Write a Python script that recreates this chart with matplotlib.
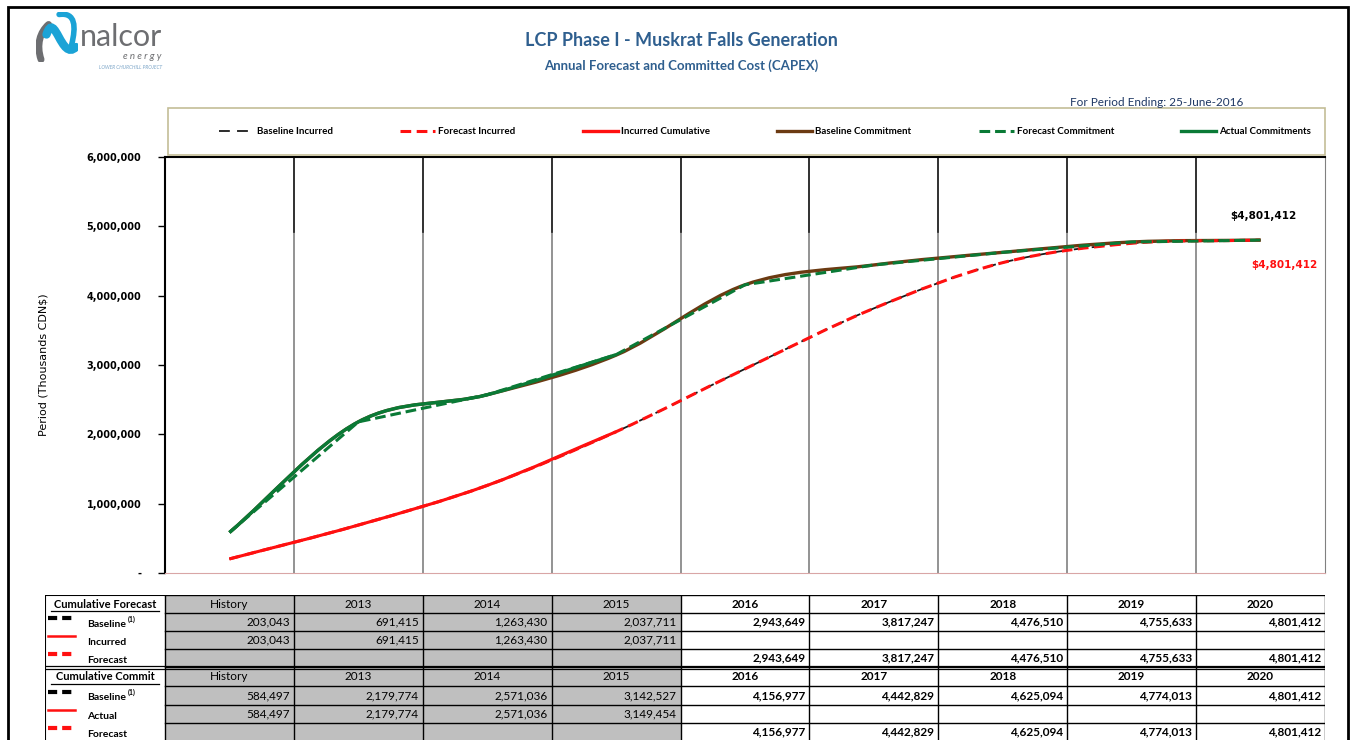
import numpy as np
import matplotlib
matplotlib.use('Agg')
import matplotlib.pyplot as plt
from matplotlib.path import Path
from matplotlib.patches import PathPatch, Rectangle
from matplotlib.lines import Line2D
from matplotlib.ticker import FuncFormatter

periods = ['History', '2013', '2014', '2015', '2016', '2017', '2018', '2019', '2020']
baseline_incurred = [203043, 691415, 1263430, 2037711, 2943649, 3817247, 4476510, 4755633, 4801412]
incurred = [203043, 691415, 1263430, 2037711]
forecast_incurred = [2943649, 3817247, 4476510, 4755633, 4801412]
baseline_commit = [584497, 2179774, 2571036, 3142527, 4156977, 4442829, 4625094, 4774013, 4801412]
actual_commit = [584497, 2179774, 2571036, 3149454]
forecast_commit = [4156977, 4442829, 4625094, 4774013, 4801412]
final_total = 4801412

W, H = 1356, 740
GREEN = '#0A7A36'
BROWN = '#6B3A12'
RED = '#FF1010'
BLUE = '#2F5F8F'
plt.rcParams['font.family'] = ['Lato', 'DejaVu Sans']


def smooth_path(xs, ys):
    # excel style smoothed line (catmull-rom bezier)
    pts = np.column_stack([xs, ys]).astype(float)
    ext = np.vstack([2 * pts[0] - pts[1], pts, 2 * pts[-1] - pts[-2]])
    verts = [pts[0]]
    codes = [Path.MOVETO]
    for i in range(1, len(ext) - 2):
        c1 = ext[i] + (ext[i + 1] - ext[i - 1]) / 6
        c2 = ext[i + 1] - (ext[i + 2] - ext[i]) / 6
        verts += [c1, c2, ext[i + 1]]
        codes += [Path.CURVE4] * 3
    return Path(verts, codes)


def fx(px):
    return px / W


def fy(py):
    return 1 - py / H


fig = plt.figure(figsize=(W / 100, H / 100), dpi=100)
fig.patch.set_facecolor('white')

# ---- main chart
ax = fig.add_axes([fx(165), fy(573), 1160 / W, 416 / H])
x = np.arange(len(periods)) + 0.5
n_act = len(incurred)

ax.add_patch(PathPatch(smooth_path(x, baseline_incurred), fill=False, ec='#1A1A1A', lw=1.3,
                       ls=(0, (6, 4)), zorder=2))
ax.add_patch(PathPatch(smooth_path(x[:n_act], incurred), fill=False, ec=RED, lw=2.2, zorder=3))
ax.add_patch(PathPatch(smooth_path(x, incurred + forecast_incurred), fill=False, ec=RED, lw=2.2,
                       ls=(0, (3.5, 1.8)), zorder=4))

ax.add_patch(PathPatch(smooth_path(x, baseline_commit), fill=False, ec=BROWN, lw=2.4, zorder=2))
ax.add_patch(PathPatch(smooth_path(x[:n_act], actual_commit), fill=False, ec=GREEN, lw=2.4, zorder=3))
ax.plot(x, actual_commit + forecast_commit, color=GREEN, lw=2.2, ls=(0, (3.5, 1.6)), zorder=4)

ax.annotate('$' + format(final_total, ','), (x[-1], baseline_commit[-1]), xytext=(2, 15),
            textcoords='offset points', ha='center', fontsize=7.5, fontweight='bold',
            color='black', family=['DejaVu Sans'])
ax.annotate('$' + format(final_total, ','), (x[-1], forecast_incurred[-1]), xytext=(17, -20),
            textcoords='offset points', ha='center', fontsize=7.5, fontweight='bold',
            color=RED, family=['DejaVu Sans'])

for k in range(1, len(periods)):
    ax.axvline(k, color='#808080', lw=1.2, zorder=1)
    ax.axvline(k, ymin=0.82, ymax=1, color='#222222', lw=1.2, zorder=1)

ax.set_xlim(0, len(periods))
ax.set_ylim(0, 6000000)
ax.set_xticks([])
ax.set_yticks(np.arange(0, 6000001, 1000000))
ax.yaxis.set_major_formatter(FuncFormatter(lambda v, p: '-' if v == 0 else format(int(v), ',')))
ax.tick_params(axis='y', direction='out', length=5, width=1, pad=12)
for lab in ax.get_yticklabels():
    lab.set_fontweight('bold')
    lab.set_fontsize(7)
    lab.set_family(['DejaVu Sans'])
ax.spines['left'].set_linewidth(1.5)
ax.spines['top'].set_linewidth(1.5)
ax.spines['right'].set_color('#808080')
ax.spines['bottom'].set_color('#D9A6A6')
ax.spines['bottom'].set_linewidth(0.8)

fig.text(fx(43), fy(365), 'Period (Thousands CDN$)', rotation=90, ha='center', va='center',
         fontsize=8, family=['DejaVu Sans'])

# ---- legend box
fig.patches.append(Rectangle((fx(168), fy(155)), 1157 / W, 47 / H, transform=fig.transFigure,
                             fill=False, ec='#C4BD97', lw=1.2))
handles = [
    Line2D([], [], color='#1A1A1A', lw=1.3, ls=(0, (6, 4))),
    Line2D([], [], color=RED, lw=2.2, ls=(0, (3.5, 1.8))),
    Line2D([], [], color=RED, lw=2.4),
    Line2D([], [], color=BROWN, lw=2.4),
    Line2D([], [], color=GREEN, lw=2.2, ls=(0, (3.5, 1.6))),
    Line2D([], [], color=GREEN, lw=2.4),
]
labels = ['Baseline Incurred', 'Forecast Incurred', 'Incurred Cumulative',
          'Baseline Commitment', 'Forecast Commitment', 'Actual Commitments']
fig.legend(handles, labels, loc='center', bbox_to_anchor=(fx(210), fy(150), 1110 / W, 36 / H),
           mode='expand', ncol=6, frameon=False, handlelength=3.6, handletextpad=0.3,
           prop={'size': 7, 'weight': 'bold', 'family': ['Lato', 'DejaVu Sans']})

# ---- titles
fig.text(fx(681), fy(41), 'LCP Phase I - Muskrat Falls Generation', ha='center', va='center',
         fontsize=13, fontweight='bold', color=BLUE)
fig.text(fx(681), fy(66), 'Annual Forecast and Committed Cost (CAPEX)', ha='center', va='center',
         fontsize=9.5, fontweight='bold', color=BLUE)
fig.text(fx(1157), fy(103), 'For Period Ending: 25-June-2016', ha='center', va='center',
         fontsize=8.5, color='#1F3864')

# ---- logo
lax = fig.add_axes([fx(36), fy(62), 42 / W, 50 / H])
lax.set_xlim(0, 1)
lax.set_ylim(0, 1)
lax.axis('off')
gray_stroke = Path([(0.12, 0.05), (0.0, 0.35), (0.1, 0.6), (0.3, 0.75)],
                   [Path.MOVETO, Path.CURVE4, Path.CURVE4, Path.CURVE4])
blue_stroke = Path([(0.25, 0.55), (0.45, 1.05), (0.6, 0.0), (0.95, 0.3)],
                   [Path.MOVETO, Path.CURVE4, Path.CURVE4, Path.CURVE4])
blue_right = Path([(0.55, 0.95), (0.95, 1.0), (0.95, 0.7), (0.85, 0.35)],
                  [Path.MOVETO, Path.CURVE4, Path.CURVE4, Path.CURVE4])
lax.add_patch(PathPatch(gray_stroke, fill=False, ec='#6D6E71', lw=5, capstyle='round'))
lax.add_patch(PathPatch(blue_stroke, fill=False, ec='#1BA3D6', lw=6, capstyle='round'))
lax.add_patch(PathPatch(blue_right, fill=False, ec='#1BA3D6', lw=4, capstyle='round'))
fig.text(fx(80), fy(46), 'nalcor', fontsize=22, color='#6D6E71', ha='left', va='baseline',
         family=['Liberation Sans Narrow', 'DejaVu Sans Condensed', 'Lato'])
fig.text(fx(161), fy(59), 'e n e r g y', fontsize=7, color='#6D6E71', ha='right', va='baseline',
         style='italic')
fig.text(fx(162), fy(69), 'LOWER CHURCHILL PROJECT', fontsize=3.5, color='#7FA7C9', ha='right',
         va='baseline', style='italic')

# ---- table under chart
tab = fig.add_axes([fx(45), fy(741), 1280 / W, 146 / H])
colw = 1160 / len(periods)
lab_left = -120 / colw
tab.set_xlim(lab_left, len(periods))
tab.set_ylim(741, 595)
tab.axis('off')
edges = [595, 613, 631, 649, 667, 686, 705, 723, 741]
n_grey = len(incurred)

tab.add_patch(Rectangle((0, 595), n_grey, 146, fc='#BFBFBF', ec='none'))
for yy in edges:
    tab.plot([0, len(periods)], [yy, yy], color='black', lw=1)
for yy in [595, 741]:
    tab.plot([lab_left, 0], [yy, yy], color='black', lw=1.5)
for yy in [665.5, 668.5]:
    tab.plot([lab_left, len(periods)], [yy, yy], color='black', lw=0.9)
for k in range(len(periods) + 1):
    tab.plot([k, k], [595, 741], color='black', lw=1)
tab.plot([lab_left, lab_left], [595, 741], color='black', lw=1.5)

groups = [
    ('Cumulative Forecast', [('Baseline', baseline_incurred, 0), ('Incurred', incurred, 0),
                             ('Forecast', forecast_incurred, n_grey)]),
    ('Cumulative Commit', [('Baseline', baseline_commit, 0), ('Actual', actual_commit, 0),
                           ('Forecast', forecast_commit, n_grey)]),
]
swatch_styles = [dict(color='black', lw=3, ls=(0, (2.2, 1.2))),
                 dict(color=RED, lw=1.8),
                 dict(color=RED, lw=3, ls=(0, (2.2, 1.2)))]
pad = 4 / colw
for g, (title, rows) in enumerate(groups):
    r0 = 4 * g
    yc = (edges[r0] + edges[r0 + 1]) / 2
    tx = (lab_left + 0) / 2
    tab.text(tx, yc, title, ha='center', va='center', fontsize=8, fontweight='bold')
    tab.plot([tx - 0.42, tx + 0.42], [yc + 7, yc + 7], color='black', lw=0.9)
    for k, p in enumerate(periods):
        tab.text(k + 0.5, yc, p, ha='center', va='center', fontsize=8.5,
                 fontweight='bold' if k >= n_grey else 'normal')
    for i, (name, vals, start) in enumerate(rows):
        r = r0 + 1 + i
        yc = (edges[r] + edges[r + 1]) / 2
        tab.plot([lab_left + 3 / colw, lab_left + 30 / colw], [yc - 4, yc - 4], **swatch_styles[i])
        tab.text(lab_left + 42 / colw, yc + 2, name, ha='left', va='center', fontsize=7.5,
                 fontweight='bold')
        if name == 'Baseline':
            tab.text(lab_left + 83 / colw, yc - 3, '(1)', ha='left', va='center', fontsize=5,
                     fontweight='bold')
        for j, v in enumerate(vals):
            k = start + j
            tab.text(k + 1 - pad, yc, format(v, ','), ha='right', va='center', fontsize=8.5,
                     fontweight='bold' if k >= n_grey else 'normal')

# outer frame
fig.patches.append(Rectangle((fx(8), -0.01), (1348 - 8) / W, fy(7) + 0.01,
                             transform=fig.transFigure, fill=False, ec='black', lw=2))

fig.savefig('out.png', dpi=100)
